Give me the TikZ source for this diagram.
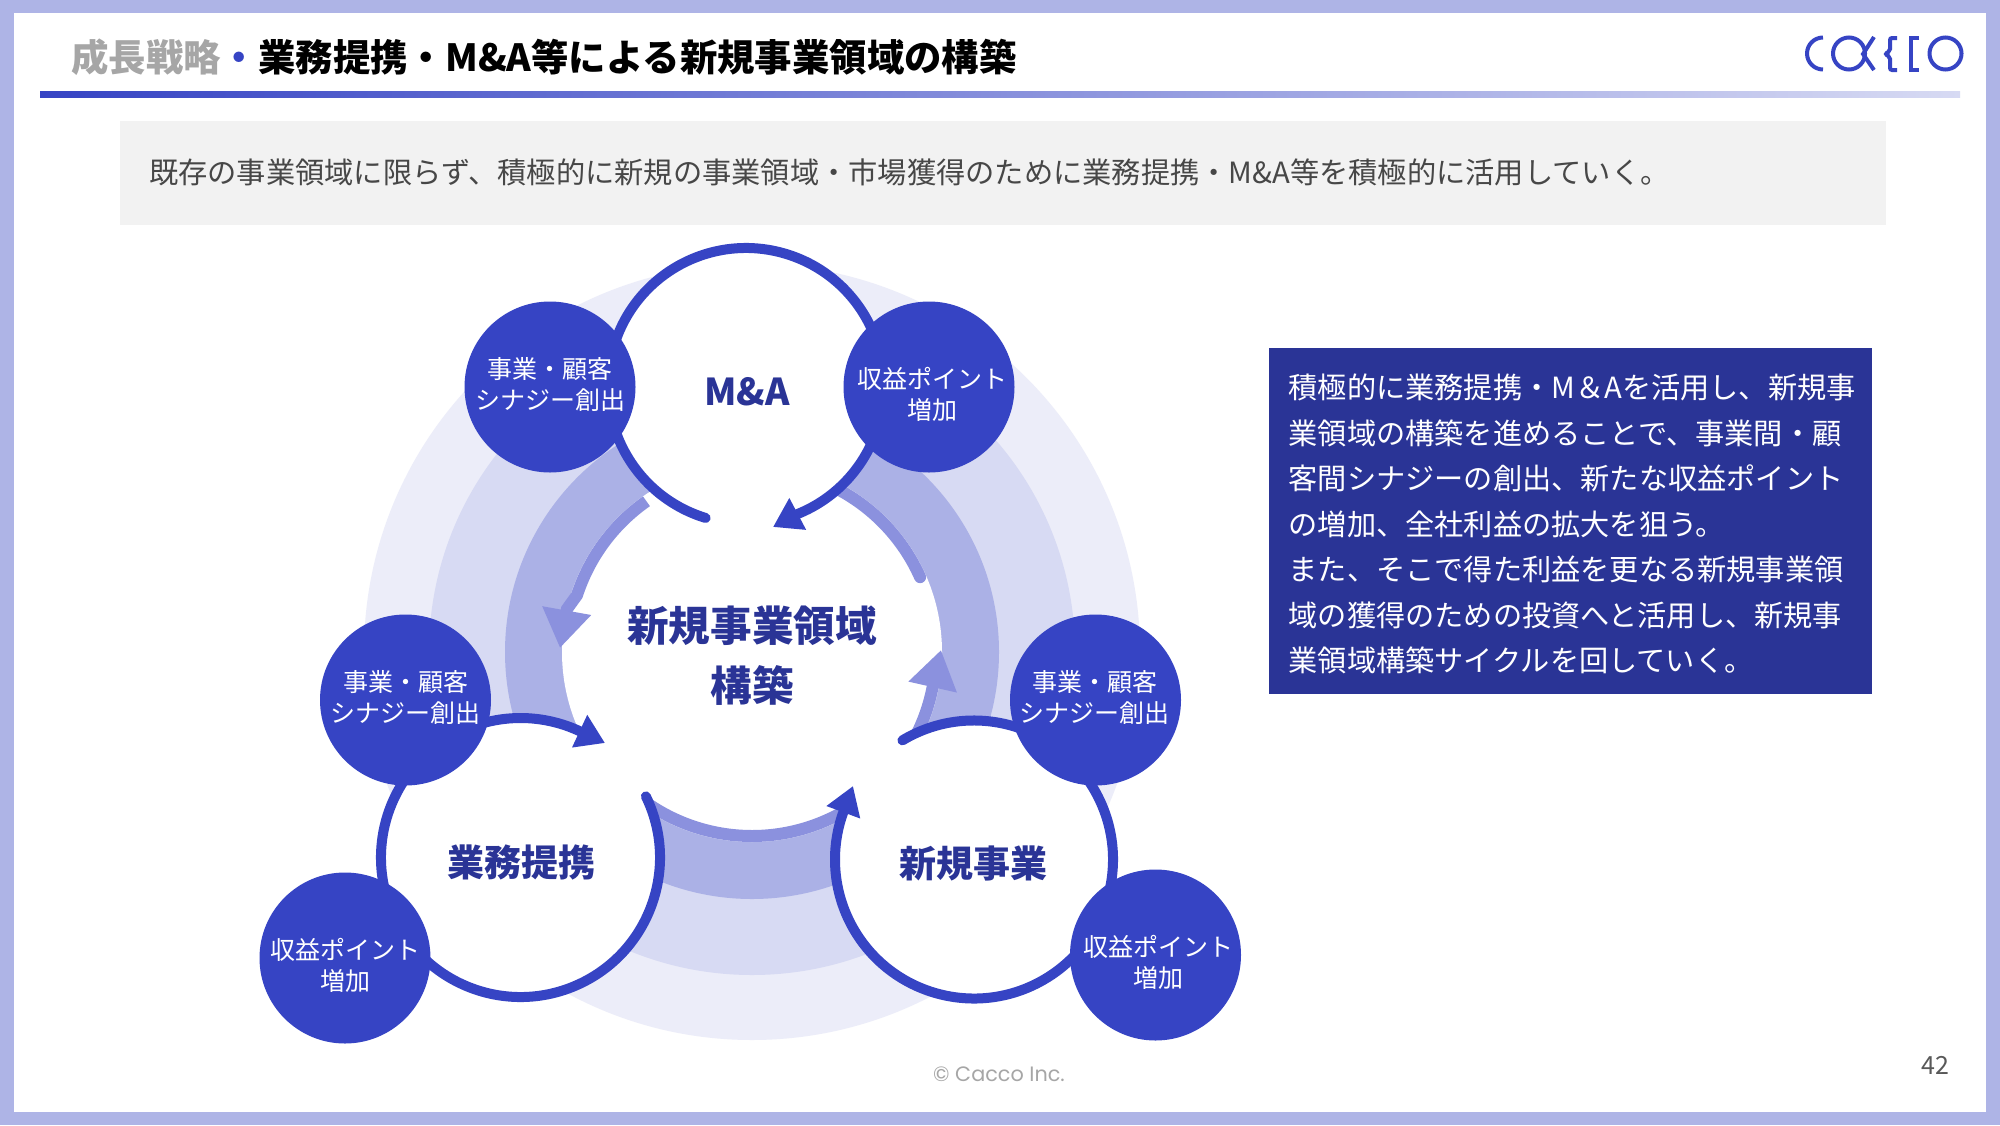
\documentclass[tikz,border=0pt]{standalone}
\usepackage{fontspec}
\setmainfont{Noto Sans CJK JP}
\newfontfamily\latinfont{Poppins}
\usetikzlibrary{arrows.meta}
\definecolor{framecol}{HTML}{AEB4E6}
\definecolor{mainblue}{HTML}{3644C4}
\definecolor{deepblue}{HTML}{2A3496}
\definecolor{ringa}{HTML}{ECEDF9}
\definecolor{ringb}{HTML}{D7DAF3}
\definecolor{ringc}{HTML}{ABB1E6}
\definecolor{ringd}{HTML}{8B91DE}
\definecolor{boxgray}{HTML}{F2F2F2}
\begin{document}
\begin{tikzpicture}[x=1pt, y=1pt,
  stage/.style={circle, fill=white, inner sep=0pt, minimum size=278pt},
  stagelabel/.style={text=deepblue, inner sep=0pt, font=\fontsize{37}{44}\selectfont\bfseries},
  blob/.style={circle, fill=mainblue, inner sep=0pt, minimum size=171pt},
  bloblabel/.style={text=white, align=center, inner sep=0pt, font=\fontsize{25}{30.6}\selectfont},
  orbit/.style={draw=mainblue, line width=10pt, line cap=round, -{Triangle[length=28pt, width=34pt]}},
  flow/.style={draw=ringd, line width=12pt, -{Triangle[length=38pt, width=47pt]}},
  flowend/.style={draw=ringd, line width=12pt, line cap=round},
  logo/.style={draw=mainblue, line width=4pt}]
  \useasboundingbox (0,0) rectangle (2000,-1125);
  \fill[framecol] (0,0) rectangle (2000,-1125);
  \fill[white] (14,-13) rectangle (1986,-1112);
  % header
  \node[anchor=base west, inner sep=0pt, font=\fontsize{37.4}{44}\selectfont\bfseries] (title) at (71,-71)
    {\textcolor{black!35}{成長戦略}\textcolor{mainblue}{・}業務提携・M\&A等による新規事業領域の構築};
  \shade[left color=mainblue, right color=ringb] (40,-91) rectangle (1960,-97);
  \draw[logo] (1823,-37.5) arc[start angle=90, end angle=270, radius=16];
  \draw[logo] (1849,-53.5) circle[radius=16];
  \draw[logo] (1874,-37) -- (1863,-54) -- (1874,-70);
  \draw[logo, rounded corners=2pt] (1897,-38) -- (1890,-38) -- (1890,-51) -- (1885,-54) -- (1890,-57) -- (1890,-70) -- (1897,-70);
  \draw[logo] (1919,-38) -- (1911,-38) -- (1911,-70) -- (1919,-70);
  \draw[logo] (1945.5,-53.5) circle[radius=16];
  % lead text
  \fill[boxgray] (120,-121) rectangle (1886,-225);
  \node[anchor=west, inner sep=0pt, text=black!72, font=\fontsize{29.25}{34}\selectfont] (lead) at (149,-172)
    {既存の事業領域に限らず、積極的に新規の事業領域・市場獲得のために業務提携・M\&A等を積極的に活用していく。};
  % rings
  \coordinate (hub) at (752,-652);
  \foreach \r/\c in {388/ringa, 323/ringb, 247/ringc, 190/white}
    \fill[\c] (hub) circle[radius=\r];
  \coordinate (flowneck) at (567,-609);
  \coordinate (flowtipa) at (560,-648);
  \coordinate (flowtipb) at (941,-650);
  \draw[flow] (hub) ++(125:184) arc[start angle=125, end angle=162, radius=184] -- (flowneck) -- (flowtipa);
  \draw[flow] (hub) ++(-35:184) arc[start angle=-35, end angle=-11, radius=184] -- (flowtipb);
  \draw[flowend] (hub) ++(65:184) arc[start angle=65, end angle=24, radius=184];
  \draw[draw=ringd, line width=12pt] (hub) ++(-125:184) arc[start angle=-125, end angle=-55, radius=184];
  % stages
  \node[stage] (ma) at (746,-386) {};
  \node[stage] (alliance) at (520.5,-857.5) {};
  \node[stage] (newbiz) at (974,-859.5) {};
  \node[stagelabel] (malabel) at (747,-392) {M\&A};
  \node[stagelabel] (alliancelabel) at (521,-862) {業務提携};
  \node[stagelabel] (newbizlabel) at (973.5,-863) {新規事業};
  \node[text=deepblue, align=center, inner sep=0pt, font=\fontsize{41.6}{60}\selectfont\bfseries] (goal) at (752,-656) {新規事業領域\\構築};
  \coordinate (matip) at (773,-527);
  \coordinate (alliancetip) at (605,-743);
  \coordinate (newbiztip) at (853,-786);
  \draw[orbit] (ma) ++(253:138) arc[start angle=253, end angle=-68, radius=138] -- (matip);
  \draw[orbit] (alliance) ++(26:139.5) arc[start angle=26, end angle=-294, radius=139.5] -- (alliancetip);
  \draw[orbit] (newbiz) ++(121:139) arc[start angle=121, end angle=-199, radius=139] -- (newbiztip);
  % small circles
  \foreach \n/\p/\dx/\dy/\t in {syna/{550,-387}/0/2.5/{事業・顧客\\シナジー創出}, synb/{405.5,-700}/0/2.5/{事業・顧客\\シナジー創出}, sync/{1095.5,-700}/-1/2.5/{事業・顧客\\シナジー創出}, gaina/{929,-387}/3/-7.5/{収益ポイント\\増加}, gainb/{345,-958}/0/-7.5/{収益ポイント\\増加}, gainc/{1155.5,-955}/3/-7.5/{収益ポイント\\増加}} {
    \node[blob] (\n) at (\p) {};
    \node[bloblabel] (\n label) at ([shift={(\dx,\dy)}]\n) {\t};
  }
  % explanation
  \node[anchor=north west, fill=deepblue, minimum width=603pt, minimum height=346pt, inner sep=0pt] (note) at (1269,-348) {};
  \node[anchor=west, align=left, inner sep=0pt, text=white, font=\fontsize{29.2}{45.5}\selectfont] (notetext) at (1288.5,-524)
    {積極的に業務提携・M＆Aを活用し、新規事\\
     業領域の構築を進めることで、事業間・顧\\
     客間シナジーの創出、新たな収益ポイント\\
     の増加、全社利益の拡大を狙う。\\
     また、そこで得た利益を更なる新規事業領\\
     域の獲得のための投資へと活用し、新規事\\
     業領域構築サイクルを回していく。};
  % footer
  \node[text=black!35, inner sep=0pt, font=\latinfont\fontsize{20.8}{24}\selectfont] (copyright) at (999,-1074) {© Cacco Inc.};
  \node[text=black!65, inner sep=0pt, font=\fontsize{25}{30}\selectfont] (pageno) at (1935,-1065) {42};
\end{tikzpicture}
\end{document}
